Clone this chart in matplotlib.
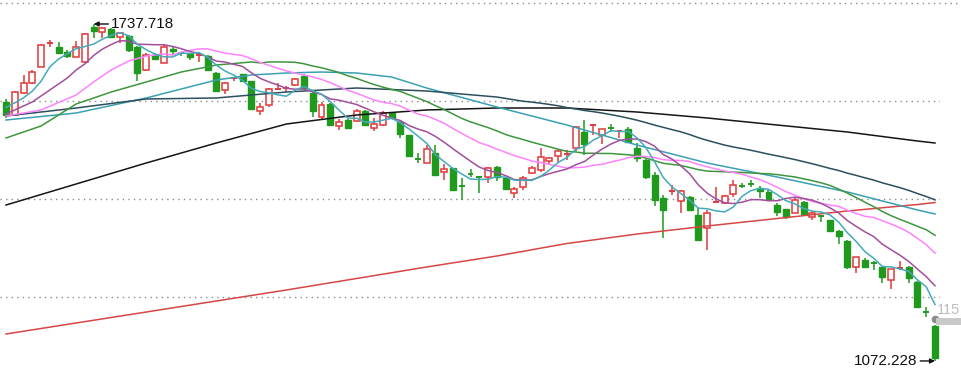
import matplotlib
matplotlib.use('Agg')
import matplotlib.pyplot as plt
import numpy as np
import pandas as pd
from matplotlib.patches import Rectangle
from matplotlib.lines import Line2D

# ---------------- data (prices) ----------------
opens = [1584.2,1558.0,1602.0,1620.6,1653.4,1698.2,1692.9,1681.8,1673.1,1663.2,
         1731.2,1721.3,1727.2,1711.4,1714.0,1692.9,1646.9,1676.5,1661.3,1688.3,
         1680.4,1677.9,1675.5,1674.5,1641.5,1607.4,1630.1,1638.4,1625.1,1565.9,
         1577.7,1609.3,1610.3,1617.2,1635.0,1602.0,1553.4,1579.7,1536.3,1548.1,
         1546.1,1566.5,1531.7,1538.2,1562.5,1544.7,1517.5,1472.5,1463.8,1483.5,
         1444.8,1452.7,1418.7,1442.4,1436.9,1436.1,1455.9,1433.0,1403.3,1415.2,
         1442.8,1449.4,1467.1,1477.6,1479.0,1492.8,1525.0,1536.3,1518.5,1533.3,
         1524.4,1529.7,1492.2,1469.1,1439.5,1394.6,1407.5,1388.7,1396.6,1360.5,
         1334.2,1386.2,1383.6,1402.0,1419.3,1422.7,1413.2,1406.5,1380.2,1371.8,
         1365.0,1386.7,1357.1,1360.5,1350.6,1329.5,1309.7,1257.2,1271.6,1266.1,
         1257.2,1232.1,1254.8,1257.2,1228.7,1170.5,1141.3]
highs = [1589.6,1605.4,1637.0,1646.9,1698.2,1706.1,1702.7,1686.4,1704.7,1719.3,
         1737.718,1732.4,1729.2,1722.5,1716.0,1694.3,1679.8,1679.8,1696.2,1692.9,
         1683.0,1681.0,1678.5,1675.5,1642.9,1623.2,1633.6,1639.9,1625.7,1581.7,
         1611.3,1620.6,1615.3,1631.0,1638.9,1603.4,1584.2,1580.7,1549.5,1549.1,
         1569.8,1567.9,1552.1,1565.9,1564.5,1546.1,1518.5,1482.3,1498.7,1498.7,
         1461.2,1453.9,1433.6,1451.3,1436.9,1455.9,1457.2,1436.1,1416.4,1437.5,
         1457.2,1492.2,1475.6,1487.9,1488.9,1536.3,1548.1,1538.2,1530.3,1540.2,
         1526.4,1534.3,1502.1,1471.1,1444.8,1400.0,1419.7,1410.8,1398.0,1374.3,
         1370.4,1416.4,1400.0,1429.6,1423.7,1429.6,1417.8,1409.9,1384.2,1373.3,
         1393.5,1388.1,1369.0,1360.5,1351.6,1330.9,1311.1,1277.5,1275.0,1270.2,
         1257.8,1253.8,1270.2,1258.8,1230.1,1179.4,1143.2]
lows = [1552.0,1556.0,1600.4,1619.2,1652.8,1692.9,1678.5,1670.0,1671.9,1660.1,
        1709.5,1709.5,1711.4,1699.6,1683.0,1625.7,1645.5,1668.0,1660.1,1676.5,
        1674.5,1666.6,1662.7,1645.9,1605.4,1600.4,1625.1,1624.1,1568.8,1558.0,
        1574.4,1607.4,1603.4,1616.2,1609.3,1553.4,1548.1,1537.2,1528.4,1530.3,
        1544.2,1537.2,1527.0,1536.3,1549.5,1512.0,1476.0,1462.6,1462.6,1437.5,
        1429.6,1408.9,1390.1,1436.1,1403.3,1423.1,1428.2,1409.9,1393.5,1409.9,
        1441.4,1444.8,1459.2,1465.7,1469.1,1486.9,1478.0,1518.5,1500.7,1525.0,
        1512.6,1501.7,1465.7,1431.0,1378.9,1314.4,1400.0,1365.0,1369.4,1309.7,
        1291.4,1384.8,1382.2,1396.6,1413.8,1416.4,1393.5,1389.1,1358.5,1352.0,
        1363.8,1361.5,1350.6,1347.2,1328.9,1303.2,1253.8,1246.5,1257.8,1251.9,
        1225.6,1213.7,1251.9,1226.8,1177.8,1158.4,1072.228]
closes = [1558.0,1604.0,1621.8,1643.5,1696.2,1700.2,1681.0,1674.5,1692.9,1717.4,
          1724.5,1729.2,1712.6,1719.3,1686.4,1640.3,1676.5,1668.6,1692.9,1684.4,
          1678.5,1673.1,1677.5,1646.9,1606.0,1620.6,1632.0,1625.1,1569.2,1574.4,
          1608.7,1611.3,1612.3,1628.5,1610.7,1566.5,1577.7,1538.2,1544.7,1531.7,
          1566.5,1538.2,1539.6,1562.5,1551.5,1520.5,1477.0,1470.5,1490.8,1439.5,
          1450.7,1409.9,1416.8,1440.5,1435.5,1452.7,1436.1,1411.2,1411.2,1433.0,
          1452.7,1475.6,1473.6,1486.9,1481.0,1534.9,1500.7,1538.2,1529.7,1531.3,
          1526.4,1503.7,1472.5,1436.1,1390.1,1370.4,1409.5,1408.5,1370.4,1311.1,
          1365.0,1388.1,1398.0,1419.7,1417.3,1420.7,1408.5,1390.1,1367.0,1357.1,
          1390.1,1362.4,1363.8,1358.5,1329.5,1319.0,1257.2,1276.9,1258.4,1264.1,
          1237.4,1253.2,1256.8,1235.5,1179.4,1168.5,1077.5]

# moving-average values before enough candles exist
ma5_lead_idx = [0, 1, 2, 3]
ma5_lead = [1573.0, 1582.0, 1592.0, 1605.0]
ma10_lead_idx = [0, 1, 2, 3, 4, 5, 6, 7, 8]
ma10_lead = [1560.0, 1567.9, 1575.8, 1583.7, 1595.5, 1607.4, 1619.2, 1631.1, 1646.9]
ma20_lead_idx = [0, 4, 8, 10, 12, 14, 16, 18]
ma20_lead = [1556.0, 1567.9, 1597.5, 1623.2, 1646.9, 1664.6, 1674.5, 1678.5]
ma30_lead_idx = [0, 4, 8, 12, 16, 20, 24, 28]
ma30_lead = [1512.6, 1536.3, 1579.7, 1603.4, 1623.2, 1642.9, 1656.7, 1662.7]
ma60_lead_idx = [0, 8, 16, 24, 32, 40, 48, 56]
ma60_lead = [1556.0, 1571.8, 1589.6, 1591.6, 1603.4, 1611.3, 1605.4, 1593.5]

# longer averages
teal_idx = [0, 8, 16, 24, 28, 32, 36, 40, 44, 48, 56, 64, 72, 80, 88, 96, 104, 106]
teal_val = [1548.1, 1561.9, 1591.6, 1627.1, 1637.0, 1640.9, 1642.9, 1640.9, 1633.0,
            1611.3, 1573.8, 1538.2, 1498.7, 1463.2, 1435.5, 1405.9, 1370.4, 1362.5]
black_idx = [0, 8, 16, 24, 32, 40, 48, 56, 64, 72, 80, 88, 96, 104, 106]
black_val = [1380.2, 1421.7, 1463.2, 1502.7, 1540.2, 1558.0, 1567.9, 1571.8, 1571.8,
             1563.9, 1552.1, 1538.2, 1524.4, 1506.6, 1502.7]
red_idx = [0, 16, 32, 48, 56, 64, 72, 80, 88, 96, 104, 106]
red_val = [1125.5, 1168.9, 1212.4, 1257.8, 1279.5, 1304.2, 1322.9, 1338.8, 1353.6,
           1368.4, 1381.2, 1385.2]

grid_levels = [1198.5, 1392.1, 1585.6]
high_label = "1737.718"
low_label = "1072.228"
right_label = "115"

# ---------------- figure ----------------
W, H = 962, 387
fig = plt.figure(figsize=(W / 100, H / 100), dpi=100)
fig.patch.set_facecolor('white')
ax = fig.add_axes([0, 0, 940 / W, 1])
ax.set_xlim(-0.685, 106.57)
ax.set_ylim(1020.8, 1785.1)
ax.axis('off')

for g in grid_levels:
    ax.axhline(g, color='#8a8a8a', lw=1.0, ls=(0, (1, 3)), zorder=1)
# top dotted border
fig.add_artist(Line2D([0, 1], [1 - 2.5 / H, 1 - 2.5 / H], transform=fig.transFigure,
                      color='#8a8a8a', lw=1.0, ls=(0, (1, 3))))

RED = '#e0393b'
GREEN = '#1f9a1f'
w = 0.68
n = len(closes)
for i in range(n):
    o, h, l, c = opens[i], highs[i], lows[i], closes[i]
    up = c >= o
    col = RED if up else GREEN
    ax.vlines(i, l, h, color=col, lw=1.1, zorder=2)
    lo, hi = min(o, c), max(o, c)
    if hi - lo < 2.5:
        ax.hlines((o + c) / 2, i - w / 2, i + w / 2, color=col, lw=1.4, zorder=3)
    else:
        if up:
            r = Rectangle((i - w / 2, lo), w, hi - lo, facecolor='white',
                          edgecolor=col, lw=1.1, zorder=3)
        else:
            r = Rectangle((i - w / 2, lo), w, hi - lo, facecolor=col,
                          edgecolor=col, lw=1.0, zorder=3)
        ax.add_patch(r)

s = pd.Series(closes)
def ma_line(win, lead_idx, lead_val):
    m = s.rolling(win).mean()
    xs = list(lead_idx) + list(range(win - 1, n))
    ys = list(lead_val) + m.iloc[win - 1:].tolist()
    return xs, ys

lines = [
    (red_idx, red_val, '#d84545'),
    (black_idx, black_val, '#151515'),
    (teal_idx, teal_val, '#3aa0b2'),
    (*ma_line(60, ma60_lead_idx, ma60_lead), '#2c4f5e'),
    (*ma_line(30, ma30_lead_idx, ma30_lead), '#3d963d'),
    (*ma_line(20, ma20_lead_idx, ma20_lead), '#ff82ff'),
    (*ma_line(10, ma10_lead_idx, ma10_lead), '#a24e9c'),
    (*ma_line(5, ma5_lead_idx, ma5_lead), '#44aabb'),
]
for xs, ys, col in lines:
    ax.plot(xs, ys, color=col, lw=1.1, zorder=4, solid_joinstyle='round')

# annotations of extreme values
imax = int(np.argmax(highs))
imin = int(np.argmin(lows))
ax.annotate(high_label, xy=(imax, highs[imax]), xytext=(imax + 2.0, highs[imax]),
            fontsize=11, family='Liberation Sans', color='#111111', va='center', ha='left',
            arrowprops=dict(arrowstyle='-|>', color='#111111', lw=1.0,
                            mutation_scale=7, shrinkA=0, shrinkB=0), zorder=6)
ax.annotate(low_label, xy=(imin, lows[imin]), xytext=(imin - 2.0, lows[imin]),
            fontsize=11, family='Liberation Sans', color='#111111', va='center', ha='right',
            arrowprops=dict(arrowstyle='-|>', color='#111111', lw=1.0,
                            mutation_scale=7, shrinkA=0, shrinkB=0), zorder=6)

# right-hand price tag
fig.add_artist(Rectangle((936 / W, 1 - 325 / H), 30 / W, 7 / H, transform=fig.transFigure,
                         facecolor='#c9c9c9', edgecolor='none'))
ax.plot([n - 1], [1156.0], 'o', color='#8c8c8c', ms=4.5, zorder=6, clip_on=False)
fig.text(937 / W, 1 - 310 / H, right_label, fontsize=10.5, family='Liberation Sans',
         color='#bdbdbd', va='center', ha='left')

fig.savefig('out.png', dpi=100, facecolor='white')
